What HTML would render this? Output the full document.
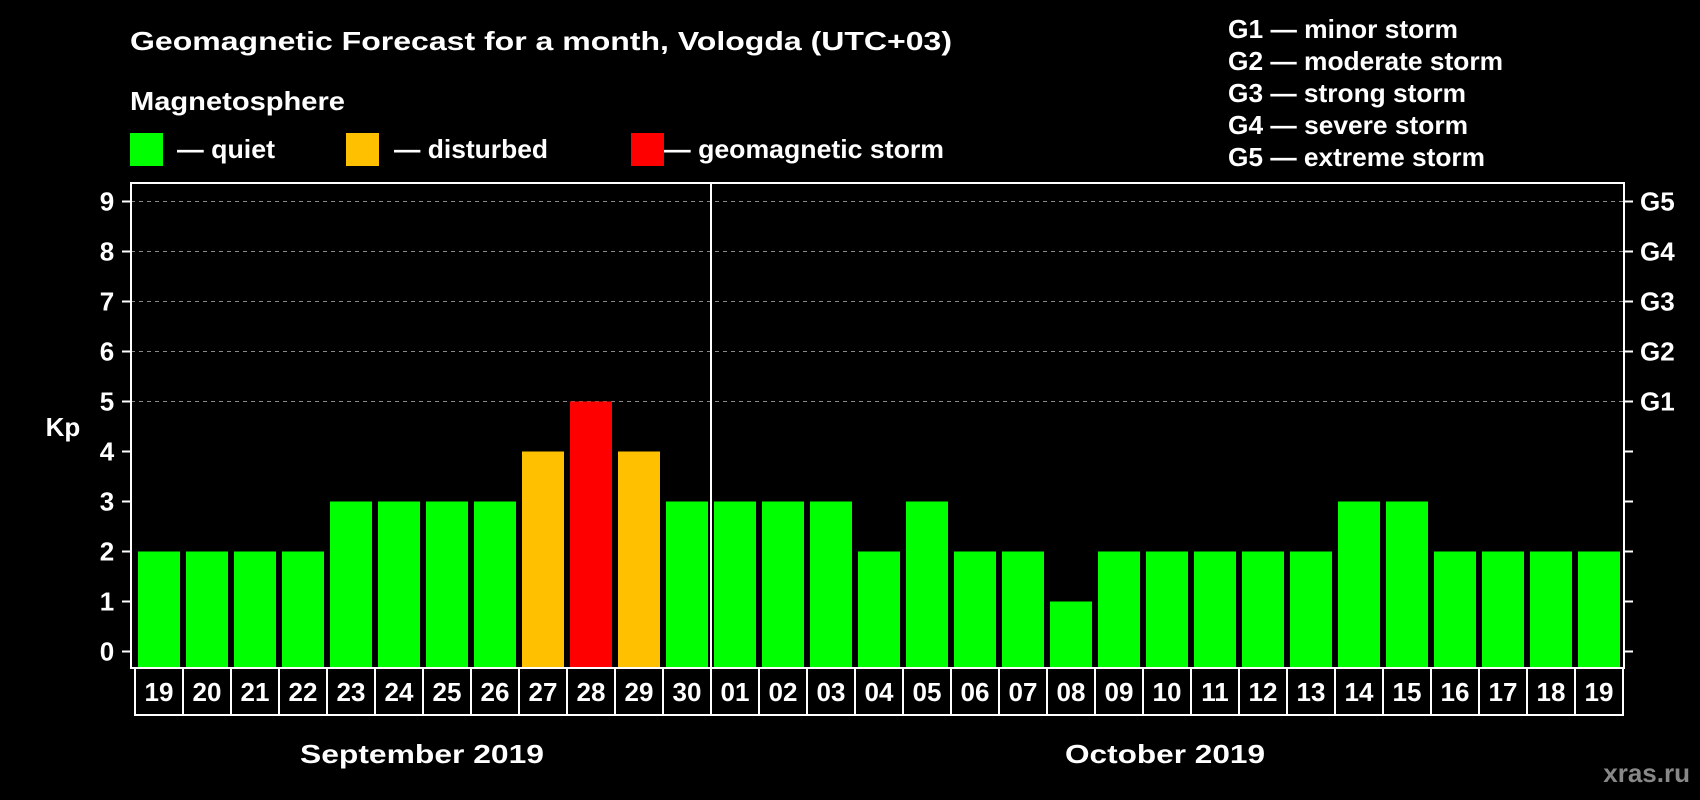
<!DOCTYPE html>
<html><head><meta charset="utf-8"><style>
html,body{margin:0;padding:0;background:#000;}
svg{display:block;font-family:"Liberation Sans",Arial,sans-serif;font-weight:bold;}
</style></head><body>
<svg id="c" width="1700" height="800" viewBox="0 0 1700 800">
<text x="130" y="50" fill="#fff" font-size="26" textLength="822" lengthAdjust="spacingAndGlyphs">Geomagnetic Forecast for a month, Vologda (UTC+03)</text>
<text x="130" y="110" fill="#fff" font-size="26" textLength="215" lengthAdjust="spacingAndGlyphs">Magnetosphere</text>
<rect x="130" y="133" width="33" height="33" fill="#00ff00"/>
<text x="177" y="158" fill="#fff" font-size="26" textLength="98" lengthAdjust="spacingAndGlyphs">— quiet</text>
<rect x="346" y="133" width="33" height="33" fill="#ffc000"/>
<text x="394" y="158" fill="#fff" font-size="26" textLength="154" lengthAdjust="spacingAndGlyphs">— disturbed</text>
<rect x="631" y="133" width="33" height="33" fill="#ff0000"/>
<text x="664" y="158" fill="#fff" font-size="26" textLength="280" lengthAdjust="spacingAndGlyphs">— geomagnetic storm</text>
<g fill="#fff" font-size="26">
<text x="1228" y="38" textLength="230" lengthAdjust="spacingAndGlyphs">G1 — minor storm</text>
<text x="1228" y="70" textLength="275" lengthAdjust="spacingAndGlyphs">G2 — moderate storm</text>
<text x="1228" y="102" textLength="238" lengthAdjust="spacingAndGlyphs">G3 — strong storm</text>
<text x="1228" y="134" textLength="240" lengthAdjust="spacingAndGlyphs">G4 — severe storm</text>
<text x="1228" y="166" textLength="257" lengthAdjust="spacingAndGlyphs">G5 — extreme storm</text>
</g>
<text x="63" y="429" fill="#fff" font-size="26" text-anchor="middle" dominant-baseline="middle">Kp</text>
<text x="422" y="763" fill="#fff" font-size="26" text-anchor="middle" textLength="244" lengthAdjust="spacingAndGlyphs">September 2019</text>
<text x="1165" y="763" fill="#fff" font-size="26" text-anchor="middle" textLength="200" lengthAdjust="spacingAndGlyphs">October 2019</text>
<text x="1690" y="782" fill="#888" font-size="26" text-anchor="end">xras.ru</text>
<g id="grid"></g><g id="bars"></g><g id="axes"></g>
</svg>
<script>
const dates=["19","20","21","22","23","24","25","26","27","28","29","30","01","02","03","04","05","06","07","08","09","10","11","12","13","14","15","16","17","18","19"];
const kp=[2,2,2,2,3,3,3,3,4,5,4,3,3,3,3,2,3,2,2,1,2,2,2,2,2,3,3,2,2,2,2];
const yTicks=[0,1,2,3,4,5,6,7,8,9];
const gLabels=["G1","G2","G3","G4","G5"];
const NS="http://www.w3.org/2000/svg";
const L=131,R=1624,T=183,B=668,cell0=135,step=48;
const y=v=>651.5-v*50;
const x=i=>cell0+i*step;
function mk(tag,attrs,parent){const e=document.createElementNS(NS,tag);for(const k in attrs)e.setAttribute(k,attrs[k]);parent.appendChild(e);return e;}
const grid=document.getElementById('grid'),bars=document.getElementById('bars'),axes=document.getElementById('axes');
yTicks.forEach(v=>{
  if(v>=5){const g=mk('line',{x1:L,x2:R,y1:y(v),y2:y(v),stroke:'#888','stroke-dasharray':'4 4','stroke-width':1},grid);
  
  }
  const t=mk('line',{x1:122,x2:L,y1:y(v),y2:y(v),stroke:'#fff','stroke-width':2},axes);
  
  
  const t2=mk('line',{x1:R,x2:R+9,y1:y(v),y2:y(v),stroke:'#fff','stroke-width':2},axes);
  
  
  const lb=mk('text',{x:107,y:y(v),fill:'#fff','font-size':26,'text-anchor':'middle','dominant-baseline':'central'},axes);
  lb.textContent=v;
  
  
});
gLabels.forEach((g,i)=>{
  const t=mk('text',{x:1640,y:y(5+i),fill:'#fff','font-size':26,'dominant-baseline':'central'},axes);
  t.textContent=g;
  
  
});
kp.forEach((v,i)=>{
  const col=v>=5?'#ff0000':(v>=4?'#ffc000':'#00ff00');
  const r=mk('rect',{x:x(i)+3,y:y(v),width:42,height:B-y(v),fill:col},bars);
  
  
});
const fr=mk('rect',{x:L,y:T,width:R-L,height:B-T,fill:'none',stroke:'#fff','stroke-width':2},axes);


const dv=mk('line',{x1:x(12),x2:x(12),y1:T,y2:B,stroke:'#fff','stroke-width':2},axes);


dates.forEach((d,i)=>{
  const c=mk('rect',{x:x(i),y:B,width:step,height:47,fill:'none',stroke:'#fff','stroke-width':2},axes);
  
  
  const t=mk('text',{x:x(i)+step/2,y:B+24,fill:'#fff','font-size':26,'text-anchor':'middle','dominant-baseline':'central'},axes);
  t.textContent=d;
  
  
});
</script>
</body></html>
